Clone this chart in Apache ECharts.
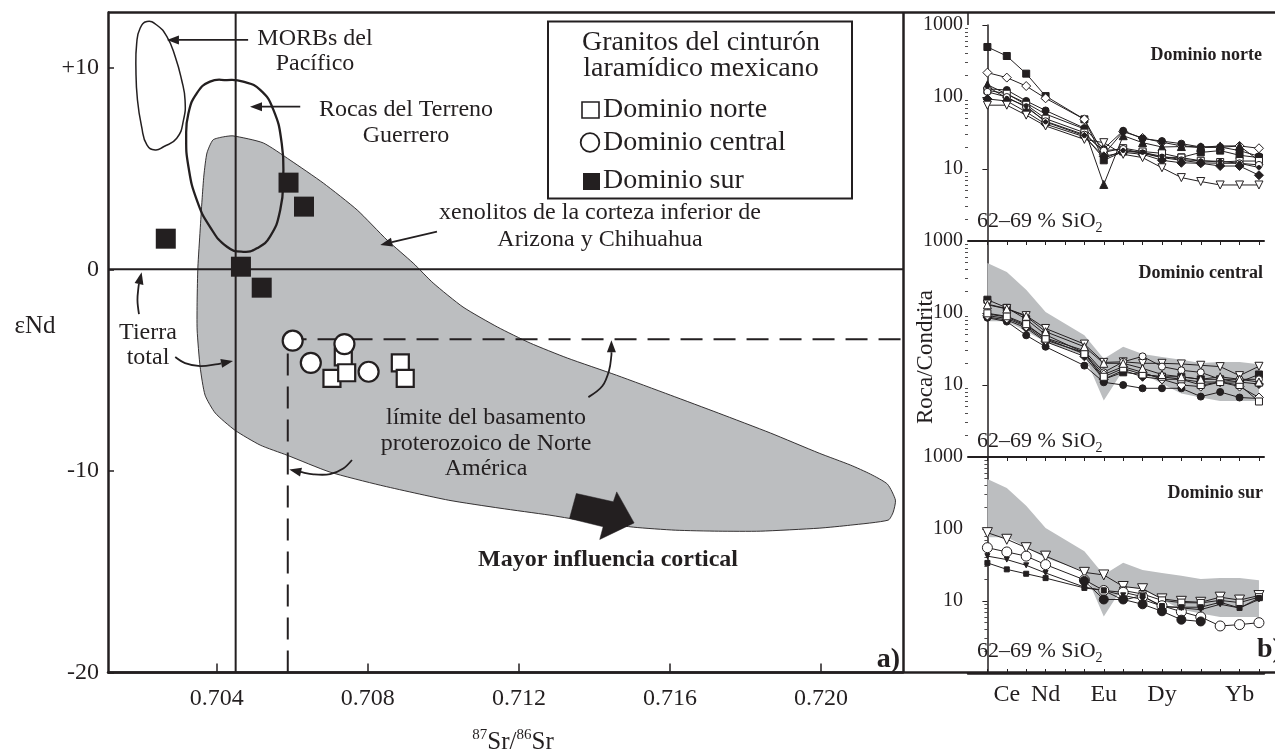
<!DOCTYPE html>
<html>
<head>
<meta charset="utf-8">
<script src="https://cdn.jsdelivr.net/npm/echarts@6/dist/echarts.min.js"></script>
<style>
html,body{margin:0;padding:0;background:#ffffff;}
#chart{width:1275px;height:753px;}
</style>
</head>
<body>
<div id="chart"></div>
<script>
// ================= DATA =================
// (a) 87Sr/86Sr vs eNd
const xTicks = [0.704, 0.708, 0.712, 0.716, 0.720];
const yTicks = [-20, -10, 0, 10];
const dominioNorte = [[0.70735,-4.34],[0.70705,-5.41],[0.70744,-5.13],[0.70886,-4.64],[0.70899,-5.41]];
const dominioCentral = [[0.70601,-3.54],[0.70649,-4.64],[0.70738,-3.71],[0.70802,-5.08]];
const dominioSur = [[0.70265,1.52],[0.70590,4.30],[0.70631,3.11],[0.70464,0.13],[0.70519,-0.91]];
const tierraTotalSr = 0.7045;
const tierraTotalNd = 0;
const basamentoSr = 0.70588;
const basamentoNd = -3.47;
const xenolitos = [[0.70390,6.42],[0.70417,6.57],[0.70443,6.62],[0.70523,6.27],[0.70594,5.42],[0.70682,4.28],[0.70772,2.94],[0.70851,1.45],[0.70920,0.31],[0.70973,-0.68],[0.71052,-1.87],[0.71143,-2.86],[0.71230,-3.66],[0.71328,-4.40],[0.71458,-5.25],[0.71601,-6.24],[0.71728,-7.13],[0.71866,-8.12],[0.71995,-9.12],[0.72078,-9.71],[0.72131,-10.16],[0.72176,-10.66],[0.72197,-11.45],[0.72191,-12.05],[0.72178,-12.44],[0.72078,-12.69],[0.71995,-12.84],[0.71839,-12.99],[0.71728,-12.99],[0.71614,-12.94],[0.71503,-12.79],[0.71362,-12.44],[0.71280,-12.19],[0.71150,-11.85],[0.71013,-11.45],[0.70833,-10.71],[0.70700,-10.06],[0.70586,-9.22],[0.70515,-8.72],[0.70448,-7.98],[0.70396,-7.13],[0.70369,-6.24],[0.70356,-4.85],[0.70348,-3.01],[0.70348,-1.52],[0.70350,0.11],[0.70356,1.95],[0.70361,3.44],[0.70366,4.68],[0.70374,5.77]];
const morbPacifico = [[0.70215,12.29],[0.70241,12.12],[0.70268,11.54],[0.70290,10.55],[0.70307,9.39],[0.70316,8.40],[0.70312,7.41],[0.70294,6.50],[0.70259,6.08],[0.70237,5.92],[0.70215,6.17],[0.70201,7.08],[0.70190,8.40],[0.70186,9.89],[0.70188,11.22],[0.70197,11.96]];
const terrenoGuerrero = [[0.70427,9.39],[0.70470,9.31],[0.70515,8.90],[0.70550,7.91],[0.70572,6.25],[0.70576,4.60],[0.70568,2.94],[0.70541,1.62],[0.70506,1.04],[0.70470,0.87],[0.70427,1.12],[0.70382,2.11],[0.70347,3.44],[0.70325,5.09],[0.70319,6.58],[0.70325,7.74],[0.70347,8.73],[0.70382,9.31]];
const arrowMorb = [[0.70483,11.38],[0.70268,11.38]];
const arrowGuerrero = [[0.70621,8.07],[0.70488,8.07]];
const arrowXenolitos = [[0.70983,1.87],[0.70833,1.21]];
const arrowTierraUp = [[0.70194,-2.22],[0.70190,-1.52],[0.70193,-0.83],[0.70201,-0.15]];
const arrowTierraRight = [[0.70290,-4.35],[0.70316,-4.65],[0.70356,-4.80],[0.70403,-4.70],[0.70443,-4.55]];
const arrowLimiteUp = [[0.71384,-6.34],[0.71421,-5.79],[0.71439,-5.00],[0.71445,-4.25],[0.71445,-3.52]];
const arrowLimiteLeft = [[0.70758,-9.46],[0.70735,-9.88],[0.70700,-10.16],[0.70656,-10.17],[0.70621,-10.05],[0.70592,-9.93]];
const corticalArrow = [[0.71352,-11.12],[0.71450,-11.53],[0.71459,-11.04],[0.71505,-12.58],[0.71414,-13.40],[0.71423,-12.77],[0.71334,-12.36]];

// (b) REE spider diagrams (Roca/Condrita)
const reeLabels = ['La','Ce','Pr','Nd','Pm','Sm','Eu','Gd','Tb','Dy','Ho','Er','Tm','Yb','Lu'];
const reeTickIdx = [1, 3, 6, 9, 13];
const norteREE = [
  [495,371,211,103,null,49,13.2,17.5,17,14.5,14.5,17,18,15.5,14.4],
  [218,186,142,96,null,49,16,33,27,23.5,21,20,20,20.9,19.4],
  [130,125,88,65,null,37,19,34,26.5,24.4,22.5,20.2,20.2,18,15],
  [148,110,82,58,null,36,6.1,29,23.2,20.2,20.5,20,20.9,20.9,13],
  [124,111,78,50,null,32,17,19.5,17.5,16.5,14.4,13,12.5,12.9,12.9],
  [118,100,72,46,null,30,18,19,16.5,14.4,13.2,12.2,12,12,11.4],
  [94,88,62,42,null,28,15,17,16,13.2,12.2,12,11,11,8.2],
  [77,77,56,39.6,null,25.8,23.2,16,14.4,10.4,7.6,6.7,6.0,6.0,6.0],
  [140,96,75,45,null,29,14,18,17,15,13.5,13,12.8,12,10.5]
];
const centralREE = [
  [153,118,82,50,null,28,12,15,14,13,13,12,12,11,14],
  [133,115,92,61,null,37,20.6,21,20,20,19.6,18.8,18,13.5,18.2],
  [97,88,67,45,null,30,15,21,25,18,16,15,12,12,12],
  [88,80,62,40,null,25,12,16,13,12,12,11,11,11,10.3],
  [86,76,49,34,null,18.6,10.9,10,9,9,9,6.9,8,6.7,6.5],
  [92,84,65,42,null,28,14,18,15,12,10,9.5,11,9.5,6.7],
  [99,90,70,44,null,27,13,17,14,13,12,10,11,10,5.9],
  [130,114,90,55,null,34,20,20,17,14,13,12,13,12,11]
];
const surREE = [
  [89,72,55,42,null,25,23,15.9,14.8,10.7,9.9,9.6,11.3,10.3,11.9],
  [null,null,null,null,null,null,null,14,12.5,10.2,9.5,9.4,10.2,9.5,11.3],
  [55,48,42,32,null,19.7,14,13.2,11.5,8.6,7.1,6.0,4.5,4.7,5.0],
  [null,null,null,null,null,19,10.5,10.5,9.0,7.2,5.5,5.2,null,null,null],
  [42,37.6,31.3,24.5,null,15.6,14,12,10.5,8.5,8,7.6,9,8,10.5],
  [33.8,27.5,23.9,20.8,null,15.2,14,10.3,11.9,8.3,8.2,8.2,9.6,8,11]
];
const logMajor = [10, 100, 1000];
const logMinor = [2,3,4,5,6,7,8,9,20,30,40,50,60,70,80,90,200,300,400,500,600,700,800,900];

// ================= STYLE =================
const ink = '#231f20';
const serif = "'Liberation Serif','Times New Roman',Times,serif";
const grayFill = '#bcbec0';
const norteMarks = ['rect-f','diamond-o','circle-f','triangle-f','rect-o','circle-o','diamond-f','tridown-o','dot'];
const centralMarks = ['rect-f','tridown-o','circle-o','diamond-f','circle-f','diamond-o','rect-o','triangle-o'];
const surMarks = ['tridown-big','rect-o','circle-big','circle-fbig','tridown-small','rect-small'];
const symMap = {
  'rect-f':{s:'rect',f:true,z:7}, 'rect-o':{s:'rect',f:false,z:7},
  'circle-f':{s:'circle',f:true,z:7}, 'circle-o':{s:'circle',f:false,z:7},
  'circle-big':{s:'circle',f:false,z:10}, 'circle-fbig':{s:'circle',f:true,z:9},
  'diamond-f':{s:'diamond',f:true,z:9}, 'diamond-o':{s:'diamond',f:false,z:9},
  'triangle-f':{s:'triangle',f:true,z:8}, 'triangle-o':{s:'triangle',f:false,z:8},
  'tridown-o':{s:'triangle',f:false,z:8,r:180}, 'tridown-big':{s:'triangle',f:false,z:10,r:180},
  'tridown-small':{s:'triangle',f:true,z:5,r:180},
  'rect-small':{s:'rect',f:true,z:5}, 'dot':{s:'circle',f:true,z:4}
};

// ================= BUILD =================
const chart = echarts.init(document.getElementById('chart'));

function shapeSeries(points, style, smooth, z) {
  return {type:'custom', xAxisIndex:0, yAxisIndex:0, z:z, silent:true, animation:false,
    data:[points[0]],
    renderItem:function(params, api){
      return {type:'polygon', shape:{points:points.map(p=>api.coord(p)), smooth:smooth}, style:style};
    }};
}
const arrowList = [arrowMorb, arrowGuerrero, arrowXenolitos, arrowTierraUp, arrowTierraRight, arrowLimiteUp, arrowLimiteLeft];
function arrowSeries() {
  return {type:'custom', xAxisIndex:0, yAxisIndex:0, z:8, silent:true, animation:false,
    data: arrowList.map(a=>a[a.length-1]),
    renderItem:function(params, api){
      const pts = arrowList[params.dataIndex].map(p=>api.coord(p));
      const n = pts.length, tip = pts[n-1], prev = pts[n-2];
      const ang = Math.atan2(tip[1]-prev[1], tip[0]-prev[0]);
      const L = 12, W = 4.5;
      const bx = tip[0]-L*Math.cos(ang), by = tip[1]-L*Math.sin(ang);
      const head = [tip, [bx+W*Math.sin(ang), by-W*Math.cos(ang)], [bx-W*Math.sin(ang), by+W*Math.cos(ang)]];
      const linePts = pts.slice(0,n-1).concat([[bx,by]]);
      return {type:'group', children:[
        {type:'polyline', shape:{points:linePts, smooth:0.35}, style:{stroke:ink, lineWidth:1.8, fill:null}},
        {type:'polygon', shape:{points:head}, style:{fill:ink}}
      ]};
    }};
}
function spiderSeries(rows, marks, xi, yi) {
  return rows.map((row,k)=>{
    const m = symMap[marks[k]];
    return {type:'line', xAxisIndex:xi, yAxisIndex:yi, z:5, silent:true, animation:false,
      data: row.map((v,i)=>[i, v==null ? '-' : v]), connectNulls:true,
      symbol:m.s, symbolSize:m.z, symbolRotate:m.r||0, showSymbol:true, showAllSymbol:true,
      lineStyle:{color:ink, width:1},
      itemStyle:{color:m.f?ink:'#ffffff', borderColor:ink, borderWidth:1}};
  });
}
// envelope of Dominio norte (grey band in central and sur panels)
function envelope(rows){
  const up=[], lo=[];
  reeLabels.forEach((_,i)=>{
    const vs = rows.map(r=>r[i]).filter(v=>v!=null);
    if (vs.length){ up.push([i, Math.max(...vs)]); lo.push([i, Math.min(...vs)]); }
  });
  return up.concat(lo.reverse());
}
const band = envelope(norteREE);
function bandSeries(xi, yi){
  return {type:'custom', xAxisIndex:xi, yAxisIndex:yi, z:3, silent:true, animation:false,
    data:[band[0]],
    renderItem:function(params, api){
      return {type:'polygon', shape:{points:band.map(p=>api.coord(p))}, style:{fill:grayFill}};
    }};
}
function lineSeries(data, width, type, z){
  return {type:'line', xAxisIndex:0, yAxisIndex:0, z:z, silent:true, animation:false, symbol:'none',
    data:data, lineStyle:{color:ink, width:width, type:type}};
}

const axisFont = {fontFamily:serif, color:ink};
const pLeft = 968, pWidth = 296, pH = 216;
const grids = [
  {left:108, top:12.5, width:795, height:660},
  {left:pLeft, top:25, width:pWidth, height:pH},
  {left:pLeft, top:241, width:pWidth, height:pH},
  {left:pLeft, top:457, width:pWidth, height:pH}
];
const reeIdx = reeLabels.map((_,i)=>i);
const xAxes = [
  {gridIndex:0, type:'value', min:0.70112, max:0.72217, position:'bottom',
   axisLine:{onZero:false, lineStyle:{color:ink, width:2.5}},
   axisTick:{inside:true, length:9, customValues:xTicks, lineStyle:{color:ink, width:1.5}},
   axisLabel:Object.assign({customValues:xTicks, formatter:v=>v.toFixed(3), fontSize:24, margin:14}, axisFont),
   splitLine:{show:false}},
  {gridIndex:1, type:'value', min:-1, max:14.26, show:false},
  {gridIndex:2, type:'value', min:-1, max:14.26, position:'top',
   axisLine:{onZero:false, lineStyle:{color:ink, width:2}},
   axisTick:{inside:true, length:4, customValues:reeIdx, lineStyle:{color:ink, width:1}},
   axisLabel:{show:false}, splitLine:{show:false}},
  {gridIndex:3, type:'value', min:-1, max:14.26, position:'top',
   axisLine:{onZero:false, lineStyle:{color:ink, width:2}},
   axisTick:{inside:true, length:4, customValues:reeIdx, lineStyle:{color:ink, width:1}},
   axisLabel:{show:false}, splitLine:{show:false}},
  {gridIndex:3, type:'value', min:-1, max:14.26, position:'bottom',
   axisLine:{onZero:false, lineStyle:{color:ink, width:2.5}},
   axisTick:{inside:true, length:4, customValues:reeIdx, lineStyle:{color:ink, width:1}},
   axisLabel:Object.assign({customValues:reeTickIdx, formatter:v=>reeLabels[Math.round(v)], fontSize:24, margin:10}, axisFont),
   splitLine:{show:false}}
];
const yAxes = [
  {gridIndex:0, type:'value', min:-20, max:12.74, position:'left',
   axisLine:{show:true, onZero:false, lineStyle:{color:ink, width:2.5}},
   axisTick:{inside:true, length:6, customValues:yTicks, lineStyle:{color:ink, width:1.5}},
   axisLabel:Object.assign({customValues:yTicks, formatter:v=>v>0?'+'+v:String(v), fontSize:24, margin:9}, axisFont),
   splitLine:{show:false}}
];
[1,2,3].forEach(g=>{
  yAxes.push({gridIndex:g, type:'log', logBase:10, min:1, max:1000, position:'left',
    axisLine:{show:true, lineStyle:{color:ink, width:1.5}},
    axisTick:{show:true, inside:false, length:5, customValues:logMajor, lineStyle:{color:ink, width:1}},
    axisLabel:Object.assign({customValues:logMajor, formatter:v=>String(Math.round(v)), fontSize:20, margin:5}, axisFont),
    splitLine:{show:false}});
  yAxes.push({gridIndex:g, type:'log', logBase:10, min:1, max:1000, position:'left',
    axisLine:{show:false},
    axisTick:{show:true, inside:false, length:3, customValues:logMinor, lineStyle:{color:ink, width:0.8}},
    axisLabel:{show:false}, splitLine:{show:false}});
});

const series = [
  shapeSeries(xenolitos, {fill:grayFill, stroke:ink, lineWidth:0.9}, 0.2, 1),
  lineSeries([[tierraTotalSr,-20],[tierraTotalSr,12.74]], 2, 'solid', 2),
  lineSeries([[0.70112,tierraTotalNd],[0.72217,tierraTotalNd]], 2, 'solid', 2),
  lineSeries([[basamentoSr,-20],[basamentoSr,basamentoNd],[0.72217,basamentoNd]], 2, [22,11], 3),
  shapeSeries(morbPacifico, {fill:'none', stroke:ink, lineWidth:1.5}, 0.5, 4),
  shapeSeries(terrenoGuerrero, {fill:'none', stroke:ink, lineWidth:2.3}, 0.5, 4),
  arrowSeries(),
  shapeSeries(corticalArrow, {fill:ink, stroke:ink, lineWidth:0.5}, 0, 8),
  {type:'scatter', name:'Dominio norte', xAxisIndex:0, yAxisIndex:0, z:10, silent:true, animation:false,
   data:dominioNorte, symbol:'rect', symbolSize:17, itemStyle:{color:'#ffffff', borderColor:ink, borderWidth:2.2, opacity:1}},
  {type:'scatter', name:'Dominio central', xAxisIndex:0, yAxisIndex:0, z:11, silent:true, animation:false,
   data:dominioCentral, symbol:'circle', symbolSize:20, itemStyle:{color:'#ffffff', borderColor:ink, borderWidth:2.2, opacity:1}},
  {type:'scatter', name:'Dominio sur', xAxisIndex:0, yAxisIndex:0, z:11, silent:true, animation:false,
   data:dominioSur, symbol:'rect', symbolSize:20, itemStyle:{color:ink, opacity:1}},
  bandSeries(2, 3),
  bandSeries(4, 5)
].concat(spiderSeries(norteREE, norteMarks, 1, 1))
 .concat(spiderSeries(centralREE, centralMarks, 2, 3))
 .concat(spiderSeries(surREE, surMarks, 4, 5));

function T(text, x, y, opt){
  const st = Object.assign({text:text, fill:ink, fontFamily:serif, fontSize:24,
    align:'center', textAlign:'center', verticalAlign:'middle', textVerticalAlign:'middle'}, opt||{});
  if (opt && opt.textAlign) st.align = opt.textAlign;
  return {type:'text', x:x, y:y, z:50, silent:true, style:st};
}
function L(x1,y1,x2,y2,w){
  return {type:'line', z:40, silent:true, shape:{x1:x1,y1:y1,x2:x2,y2:y2}, style:{stroke:ink, lineWidth:w}};
}
const sio2 = {text:'{n|62–69 % SiO}{s|2}', rich:{n:{fontSize:22, lineHeight:28, fontFamily:serif, fill:ink}, s:{fontSize:14, lineHeight:14, verticalAlign:'bottom', fontFamily:serif, fill:ink}}};
const graphic = [
  // frame
  L(108,12.5,1275,12.5,2.5),
  L(903.5,12.5,903.5,672.5,2.5),
  L(108,672.5,1275,672.5,2.5),
  L(968,12.5,968,25,1.5),
  // annotations (a)
  T('MORBs del\nPacífico', 315, 51, {lineHeight:25}),
  T('Rocas del Terreno\nGuerrero', 406, 123, {lineHeight:26}),
  T('xenolitos de la corteza inferior de\nArizona y Chihuahua', 600, 226.5, {lineHeight:27}),
  T('Tierra\ntotal', 148, 345.5, {lineHeight:25}),
  T('límite del basamento\nproterozoico de Norte\nAmérica', 486, 443.5, {lineHeight:25.5}),
  T('Mayor influencia cortical', 608, 560, {fontWeight:'bold'}),
  T('a)', 900, 660, {fontWeight:'bold', fontSize:28, textAlign:'right'}),
  T('εNd', 35, 326, {fontSize:25}),
  {type:'text', x:513, y:742, z:50, silent:true, style:{text:'{s|87}{n|Sr/}{s|86}{n|Sr}',
    align:'center', textAlign:'center', verticalAlign:'middle', textVerticalAlign:'middle',
    rich:{s:{fontSize:15, lineHeight:15, verticalAlign:'top', fontFamily:serif, fill:ink},
          n:{fontSize:25, lineHeight:28, fontFamily:serif, fill:ink}}}},
  // legend box
  {type:'rect', z:45, silent:true, shape:{x:548, y:21.5, width:304, height:177}, style:{fill:'#ffffff', stroke:ink, lineWidth:2}},
  T('Granitos del cinturón', 701, 42.5, {fontSize:28}),
  T('laramídico mexicano', 701, 68.5, {fontSize:28}),
  L(561,87.5,842,87.5,1.3),
  {type:'rect', z:50, silent:true, shape:{x:582, y:102, width:17, height:16}, style:{fill:'#ffffff', stroke:ink, lineWidth:1.6}},
  {type:'circle', z:50, silent:true, shape:{cx:590, cy:142.5, r:9.3}, style:{fill:'#ffffff', stroke:ink, lineWidth:1.8}},
  {type:'rect', z:50, silent:true, shape:{x:583, y:173, width:17, height:17}, style:{fill:ink}},
  T('Dominio norte', 603, 110, {fontSize:28, textAlign:'left'}),
  T('Dominio central', 603, 143, {fontSize:28, textAlign:'left'}),
  T('Dominio sur', 603, 181, {fontSize:28, textAlign:'left'}),
  // panel (b) texts
  T('Dominio norte', 1262, 55, {fontSize:18, fontWeight:'bold', textAlign:'right'}),
  T('Dominio central', 1263, 273, {fontSize:18, fontWeight:'bold', textAlign:'right'}),
  T('Dominio sur', 1263, 493, {fontSize:18, fontWeight:'bold', textAlign:'right'}),
  {type:'text', x:977, y:221, z:50, silent:true, style:Object.assign({align:'left', textAlign:'left', verticalAlign:'middle', textVerticalAlign:'middle'}, sio2)},
  {type:'text', x:977, y:441, z:50, silent:true, style:Object.assign({align:'left', textAlign:'left', verticalAlign:'middle', textVerticalAlign:'middle'}, sio2)},
  {type:'text', x:977, y:651, z:50, silent:true, style:Object.assign({align:'left', textAlign:'left', verticalAlign:'middle', textVerticalAlign:'middle'}, sio2)},
  T('b)', 1257, 650, {fontSize:28, fontWeight:'bold', textAlign:'left'}),
  {type:'text', x:926, y:357, rotation:Math.PI/2, z:50, silent:true, style:{text:'Roca/Condrita', fill:ink, fontFamily:serif, fontSize:23,
    align:'center', textAlign:'center', verticalAlign:'middle', textVerticalAlign:'middle'}}
];

chart.setOption({
  animation:false,
  backgroundColor:'#ffffff',
  grid:grids,
  xAxis:xAxes,
  yAxis:yAxes,
  series:series,
  graphic:graphic
});
</script>
</body>
</html>
